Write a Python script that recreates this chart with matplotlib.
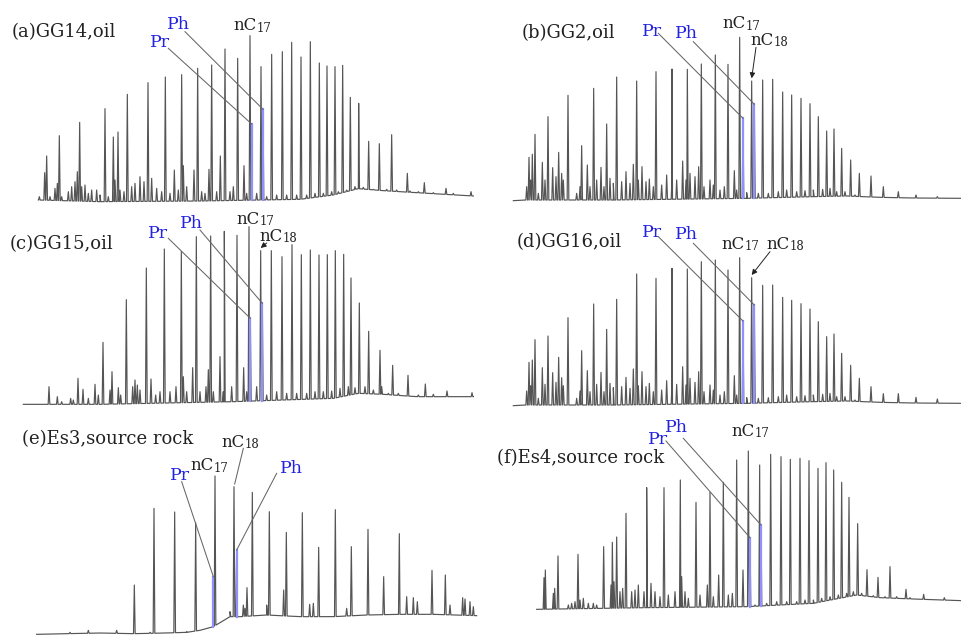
import matplotlib

matplotlib.use("Agg")

import matplotlib.pyplot as plt
import numpy as np

# Six GC traces (saturate fraction). Retention is in arbitrary units across
# each panel, intensity in arbitrary units above the panel floor.

# (a) GG14, oil
a_base = [(115, 30), (300, 25), (600, 27), (900, 32), (1000, 45), (1075, 64), (1150, 58), (1250, 52), (1420, 42)]
a_nalk = [(140, 162), (178, 223), (239, 263), (315, 304), (340, 219), (354, 234), (382, 347), (444, 382),
          (496, 399), (545, 406), (593, 425), (635, 435), (675, 483), (713, 455), (750, 523), (783, 430),
          (815, 467), (847, 475), (875, 503), (903, 459), (931, 505), (958, 441), (981, 432), (1005, 430),
          (1028, 434), (1051, 338), (1076, 320), (1106, 206), (1138, 199), (1175, 226), (1222, 110),
          (1273, 82), (1338, 65), (1413, 55)]
a_minor = [(118, 40), (134, 112), (150, 40), (165, 65), (172, 80), (185, 40), (205, 55), (215, 70), (225, 85),
           (232, 115), (245, 70), (255, 75), (265, 50), (275, 60), (290, 60), (300, 45), (325, 40), (345, 90),
           (360, 60), (372, 55), (395, 70), (405, 80), (420, 100), (432, 85), (455, 95), (470, 65), (485, 55),
           (510, 50), (523, 120), (535, 60), (550, 133), (560, 70), (582, 120), (605, 55), (615, 50),
           (627, 122), (650, 55), (661, 162), (690, 55), (700, 70), (732, 133), (740, 50), (770, 50),
           (800, 40), (830, 45), (860, 45), (890, 45), (920, 45), (945, 50), (970, 50), (995, 55), (1015, 55),
           (1040, 60), (1065, 70), (1090, 68), (1120, 62), (1160, 62), (1190, 60), (1230, 57), (1255, 55),
           (1300, 52), (1360, 50)]
a_pr = (755, 258)
a_ph = (789, 302)

# (b) GG2, oil
b_base = [(100, 28), (135, 30), (400, 30), (800, 35), (1000, 40), (1100, 42), (1200, 38), (1300, 36), (1446, 35)]
b_nalk = [(147, 158), (157, 167), (165, 227), (187, 143), (204, 280), (218, 127), (236, 173), (264, 344),
          (305, 193), (341, 365), (363, 128), (380, 258), (410, 399), (470, 387), (528, 415), (576, 423),
          (622, 422), (664, 438), (706, 465), (744, 437), (779, 518), (815, 387), (848, 390), (878, 392),
          (908, 354), (935, 345), (963, 335), (990, 319), (1015, 280), (1040, 237), (1062, 243), (1085, 185),
          (1112, 150), (1138, 110), (1173, 102), (1210, 70), (1255, 55), (1308, 45), (1372, 40)]
b_minor = [(140, 70), (152, 90), (175, 50), (195, 90), (228, 100), (245, 110), (250, 90), (290, 50), (300, 70),
           (322, 135), (330, 70), (350, 90), (372, 70), (390, 95), (400, 80), (425, 85), (438, 115), (450, 80),
           (460, 137), (475, 90), (486, 130), (498, 85), (508, 93), (520, 70), (545, 75), (560, 105),
           (575, 70), (590, 90), (608, 147), (618, 90), (630, 110), (645, 100), (656, 130), (672, 70),
           (690, 90), (700, 75), (720, 60), (733, 70), (763, 118), (770, 60), (800, 52), (835, 50), (865, 50),
           (895, 55), (920, 60), (950, 55), (975, 58), (1000, 60), (1028, 62), (1050, 65), (1070, 55),
           (1095, 55), (1125, 45)]
b_pr = (789, 275)
b_ph = (823, 317)
b_nc18 = (815, 387)

# (c) GG15, oil
c_base = [(70, 32), (300, 32), (700, 40), (1000, 50), (1075, 65), (1150, 62), (1250, 55), (1420, 55)]
c_nalk = [(147, 85), (234, 110), (249, 77), (285, 92), (309, 218), (336, 130), (379, 346), (439, 441),
          (493, 498), (544, 490), (589, 535), (632, 537), (673, 551), (711, 539), (747, 565), (782, 493),
          (814, 493), (846, 475), (876, 511), (904, 481), (931, 495), (957, 480), (982, 481), (1006, 493),
          (1031, 482), (1053, 411), (1078, 336), (1106, 251), (1140, 194), (1178, 149), (1224, 119),
          (1276, 93), (1341, 72), (1416, 67)]
c_minor = [(172, 55), (185, 40), (212, 50), (220, 45), (265, 50), (295, 60), (330, 75), (355, 82), (362, 60),
           (398, 85), (405, 105), (412, 90), (420, 75), (453, 108), (467, 60), (480, 70), (510, 70), (528, 85),
           (550, 115), (560, 70), (578, 142), (600, 70), (618, 85), (625, 136), (640, 70), (660, 175),
           (670, 70), (695, 85), (731, 142), (740, 70), (770, 85), (800, 60), (830, 70), (860, 65), (890, 65),
           (920, 65), (945, 70), (970, 70), (995, 72), (1020, 80), (1045, 85), (1065, 82), (1095, 85),
           (1120, 75), (1145, 85), (1165, 65), (1195, 65), (1255, 60), (1300, 62)]
c_pr = (751, 290)
c_ph = (787, 335)
c_nc18 = (782, 493)

# (d) GG16, oil
d_base = [(100, 28), (135, 30), (400, 30), (800, 35), (1000, 40), (1100, 42), (1200, 38), (1300, 36), (1446, 35)]
d_nalk = [(147, 158), (157, 165), (165, 226), (187, 142), (204, 237), (218, 127), (236, 173), (264, 292),
          (305, 193), (341, 333), (363, 128), (380, 257), (410, 347), (470, 423), (528, 410), (576, 440),
          (622, 438), (664, 460), (706, 465), (744, 435), (779, 472), (815, 412), (848, 389), (878, 390),
          (908, 353), (935, 344), (963, 334), (990, 318), (1015, 280), (1040, 235), (1062, 243), (1085, 185),
          (1112, 149), (1138, 110), (1173, 85), (1210, 64), (1255, 64), (1308, 53), (1372, 48)]
d_minor = [(140, 72), (152, 88), (175, 50), (195, 92), (228, 98), (245, 112), (250, 88), (290, 50), (300, 72),
           (322, 133), (330, 70), (350, 92), (372, 70), (390, 95), (400, 82), (425, 85), (438, 113), (450, 80),
           (460, 138), (475, 88), (486, 130), (498, 85), (508, 95), (520, 70), (545, 75), (560, 103),
           (575, 70), (590, 92), (608, 145), (618, 90), (630, 110), (645, 98), (656, 130), (672, 70),
           (690, 90), (700, 75), (720, 60), (733, 70), (763, 118), (770, 60), (800, 52), (835, 50), (865, 52),
           (895, 55), (920, 60), (950, 55), (975, 58), (1000, 60), (1028, 62), (1050, 65), (1070, 55),
           (1095, 55), (1125, 45)]
d_pr = (789, 282)
d_ph = (823, 330)
d_nc18 = (815, 412)

# (e) Es3, source rock
e_base = [(110, 2), (200, 4), (300, 6), (400, 4), (500, 6), (560, 8), (600, 14), (640, 25), (690, 55),
          (720, 55), (800, 60), (900, 55), (1000, 55), (1100, 60), (1200, 62), (1300, 62), (1430, 58)]
e_nalk = [(403, 150), (462, 380), (524, 369), (587, 337), (645, 477), (702, 445), (757, 428), (808, 370),
          (859, 308), (907, 367), (956, 263), (1006, 376), (1054, 265), (1104, 317), (1151, 175), (1198, 304),
          (1296, 194), (1336, 180)]
e_minor = [(210, 8), (265, 14), (300, 6), (350, 14), (450, 8), (560, 10), (690, 70), (730, 90), (735, 80),
           (741, 142), (800, 90), (851, 135), (929, 92), (940, 95), (1040, 80), (1220, 115), (1240, 112),
           (1252, 100), (1350, 90), (1388, 112), (1395, 108), (1410, 100), (1420, 85)]
e_pr = (640, 175)
e_ph = (710, 255)
e_nc18 = (702, 445)

# (f) Es4, source rock
f_base = [(170, 77), (500, 82), (800, 85), (1000, 95), (1130, 120), (1200, 112), (1300, 108), (1446, 103)]
f_nalk = [(196, 195), (224, 140), (234, 237), (294, 242), (371, 265), (397, 278), (410, 294), (438, 365),
          (500, 442), (552, 442), (601, 465), (648, 398), (690, 428), (730, 458), (770, 525), (805, 552),
          (839, 510), (872, 542), (903, 535), (931, 527), (960, 530), (987, 523), (1014, 500), (1038, 517),
          (1061, 495), (1085, 458), (1107, 413), (1133, 334), (1161, 196), (1194, 173), (1230, 205),
          (1278, 137), (1331, 122), (1393, 112)]
f_minor = [(192, 172), (220, 125), (265, 90), (275, 95), (285, 100), (300, 105), (310, 110), (325, 95),
           (340, 95), (350, 90), (393, 150), (402, 160), (420, 130), (428, 140), (455, 130), (465, 135),
           (475, 150), (492, 130), (513, 155), (525, 130), (540, 115), (565, 120), (585, 130), (605, 175),
           (615, 130), (625, 110), (660, 120), (682, 150), (700, 115), (716, 180), (745, 120), (757, 125),
           (789, 195), (825, 90), (860, 95), (890, 100), (920, 100), (950, 100), (975, 105), (1000, 105),
           (1025, 110), (1050, 115), (1075, 120), (1100, 125), (1120, 130), (1145, 125), (1180, 118),
           (1215, 115), (1250, 115), (1290, 112)]
f_pr = (810, 292)
f_ph = (843, 330)

TRACE = "#555555"
PEAK_BLUE = "#9090ff"
LABEL_BLUE = "#2323e0"
SERIF = "DejaVu Serif"
UNITS_PER_PX = 3


def build_trace(base, peaks, half_width=2.5):
    bx, by = (np.asarray(v, dtype=float) for v in zip(*base))
    xs, ys = list(bx), list(by)
    for rt, top in peaks:
        xs += [rt - half_width, rt, rt + half_width]
        ys += [np.interp(rt - half_width, bx, by), top, np.interp(rt + half_width, bx, by)]
    order = np.argsort(xs, kind="stable")
    return np.asarray(xs)[order], np.asarray(ys)[order]


def chem_label(ax, x, y, n):
    t = ax.text(x, y, "nC", fontsize=12, family=SERIF, color="#222222", va="center")
    ax.annotate(str(n), xy=(1, 0), xycoords=t, fontsize=8.5, family=SERIF, color="#222222", va="bottom")


def draw_panel(fig, box, base, nalk, minor, pr, ph, title, labels, leaders, arrows):
    left, top, w, h = box
    ax = fig.add_axes([left / 962, 1 - (top + h) / 635, w / 962, h / 635])
    ax.set_xlim(0, w * UNITS_PER_PX)
    ax.set_ylim(0, h * UNITS_PER_PX)
    ax.set_axis_off()

    xs, ys = build_trace(base, list(nalk) + list(minor) + [pr, ph])
    ax.plot(xs, ys, color=TRACE, lw=0.85)
    bx, by = zip(*base)
    for rt, peak_top in (pr, ph):
        ax.plot([rt, rt], [np.interp(rt, bx, by), peak_top], color=PEAK_BLUE, lw=1.6)

    ax.text(title[1], title[2], title[0], fontsize=13, family=SERIF, color="#222222", va="center")
    for kind, text, x, y in labels:
        if kind == "chem":
            chem_label(ax, x, y, text)
        else:
            ax.text(x, y, text, fontsize=12.5, family=SERIF, color=LABEL_BLUE, va="center")
    for (x0, y0), (rt, peak_top) in leaders:
        ax.plot([x0, rt], [y0, peak_top], color="#666666", lw=0.75)
    for (x0, y0), (rt, peak_top) in arrows:
        ax.annotate("", xy=(rt, peak_top + 8), xytext=(x0, y0),
                    arrowprops=dict(arrowstyle="-|>", color="#222222", lw=0.7, mutation_scale=8,
                                    shrinkA=0, shrinkB=0))
    return ax


fig = plt.figure(figsize=(9.62, 6.35), dpi=100)

draw_panel(fig, (0, 0, 480, 210), a_base, a_nalk, a_minor, a_pr, a_ph,
           ("(a)GG14,oil", 35, 535),
           [("blue", "Ph", 500, 557), ("blue", "Pr", 450, 502), ("chem", 17, 700, 552)],
           [((505, 485), a_pr), ((555, 535), a_ph)], [])

draw_panel(fig, (480, 0, 482, 210), b_base, b_nalk, b_minor, b_pr, b_ph,
           ("(b)GG2,oil", 125, 530),
           [("blue", "Pr", 485, 537), ("blue", "Ph", 585, 530), ("chem", 17, 728, 558), ("chem", 18, 812, 508)],
           [((535, 530), b_pr), ((640, 505), b_ph)], [((828, 488), b_nc18)])

draw_panel(fig, (0, 205, 480, 210), c_base, c_nalk, c_minor, c_pr, c_ph,
           ("(c)GG15,oil", 30, 512),
           [("blue", "Pr", 445, 545), ("blue", "Ph", 540, 575), ("chem", 17, 710, 586), ("chem", 18, 778, 534)],
           [((505, 530), c_pr), ((600, 555), c_ph)], [((800, 516), c_nc18)])

draw_panel(fig, (480, 205, 482, 210), d_base, d_nalk, d_minor, d_pr, d_ph,
           ("(d)GG16,oil", 110, 518),
           [("blue", "Pr", 485, 547), ("blue", "Ph", 585, 542), ("chem", 17, 725, 512), ("chem", 18, 860, 512)],
           [((535, 535), d_pr), ((640, 515), d_ph)], [((870, 490), d_nc18)])

draw_panel(fig, (0, 415, 480, 220), e_base, e_nalk, e_minor, e_pr, e_ph,
           ("(e)Es3,source rock", 65, 588),
           [("chem", 18, 665, 577), ("chem", 17, 570, 507), ("blue", "Pr", 510, 480), ("blue", "Ph", 840, 500)],
           [((545, 460), e_pr), ((730, 560), (e_nc18[0] + 2, e_nc18[1] + 8)), ((830, 485), e_ph)], [])

draw_panel(fig, (480, 415, 482, 220), f_base, f_nalk, f_minor, f_pr, f_ph,
           ("(f)Es4,source rock", 50, 532),
           [("blue", "Pr", 505, 587), ("blue", "Ph", 555, 622), ("chem", 17, 755, 610)],
           [((558, 582), f_pr), ((610, 590), f_ph)], [])

fig.savefig("out.png", dpi=100)
plt.close(fig)
